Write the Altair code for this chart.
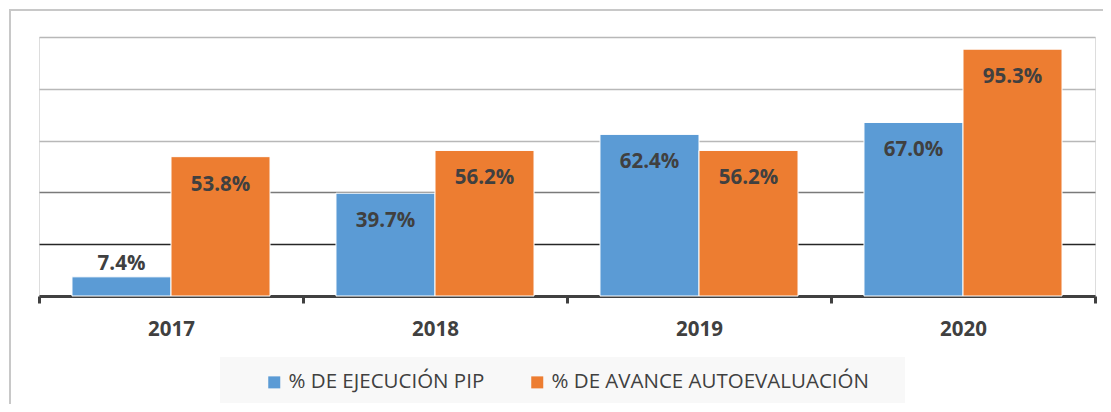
import altair as alt
import pandas as pd

years = ["2017", "2018", "2019", "2020"]
series = ["% DE EJECUCIÓN PIP", "% DE AVANCE AUTOEVALUACIÓN"]
ejecucion = [7.4, 39.7, 62.4, 67.0]
avance = [53.8, 56.2, 56.2, 95.3]
colors = ["#5B9BD5", "#ED7D31"]
grid_values = [20, 40, 60, 80, 100]

rows = []
for i, yr in enumerate(years):
    rows.append({"year": yr, "serie": series[0], "value": ejecucion[i]})
    rows.append({"year": yr, "serie": series[1], "value": avance[i]})
df = pd.DataFrame(rows)

W, H = 1056, 259
FONT = "Open Sans"
TXT = "#404040"

x = alt.X(
    "year:N", sort=years,
    scale=alt.Scale(paddingInner=0, paddingOuter=0),
    axis=alt.Axis(
        title=None, labelAngle=0, tickBand="extent", grid=False,
        domainColor="#404040", domainWidth=3,
        tickColor="#404040", tickWidth=3, tickSize=7,
        labelFont=FONT, labelFontWeight="bold", labelFontSize=20.5,
        labelColor=TXT, labelPadding=16,
    ),
)
xo = alt.XOffset("serie:N", sort=series,
                 scale=alt.Scale(paddingInner=0, paddingOuter=0.333))
y = alt.Y(
    "value:Q",
    scale=alt.Scale(domain=[0, 100], nice=False),
    axis=alt.Axis(
        title=None, labels=False, ticks=False, domain=False,
        values=grid_values, gridWidth=1.5,
        gridColor={"condition": [
            {"test": "datum.value <= 20", "value": "#262626"},
            {"test": "datum.value <= 40", "value": "#7a7a7a"},
        ], "value": "#b8b8b8"},
    ),
)
color = alt.Color(
    "serie:N", sort=series,
    scale=alt.Scale(domain=series, range=colors),
    legend=alt.Legend(
        orient="none", legendX=225, legendY=335, direction="horizontal",
        title=None, symbolType="square", symbolSize=144, symbolStrokeWidth=0,
        labelFont=FONT, labelFontSize=20.5, labelColor=TXT, labelOffset=4,
        columnPadding=42, padding=0, labelLimit=600,
    ),
)

one = pd.DataFrame({"k": [0]})
frame = alt.Chart(one).mark_rect(
    fillOpacity=0, stroke="#c8c8c8", strokeWidth=2
).encode(x=alt.value(-29), x2=alt.value(1120), y=alt.value(-27), y2=alt.value(520))

legend_bg = alt.Chart(one).mark_rect(fill="#f8f8f8").encode(
    x=alt.value(181), x2=alt.value(866), y=alt.value(320), y2=alt.value(366)
)

bars = alt.Chart(df).mark_bar(stroke="white", strokeWidth=1).encode(
    x=x, xOffset=xo, y=y, color=color
)

base_text = alt.Chart(df).transform_calculate(
    label="format(datum.value, '.1f') + '%'"
)
inside = base_text.transform_filter("datum.value >= 20").mark_text(
    font=FONT, fontWeight="bold", fontSize=20.5, color=TXT,
    baseline="middle", dy=28
).encode(x=alt.X("year:N", sort=years), xOffset=alt.XOffset("serie:N", sort=series),
         y=alt.Y("value:Q"), text="label:N")
outside = base_text.transform_filter("datum.value < 20").mark_text(
    font=FONT, fontWeight="bold", fontSize=20.5, color=TXT,
    baseline="middle", dy=-13
).encode(x=alt.X("year:N", sort=years), xOffset=alt.XOffset("serie:N", sort=series),
         y=alt.Y("value:Q"), text="label:N")

chart = alt.layer(frame, legend_bg, bars, inside, outside).properties(
    width=W, height=H,
    autosize=alt.AutoSizeParams(type="none"),
    padding={"left": 31, "top": 29, "right": 8, "bottom": 108},
).configure_view(stroke=None).configure(background="white")

chart.save("out.html", embed_options={"renderer": "svg", "actions": False})
